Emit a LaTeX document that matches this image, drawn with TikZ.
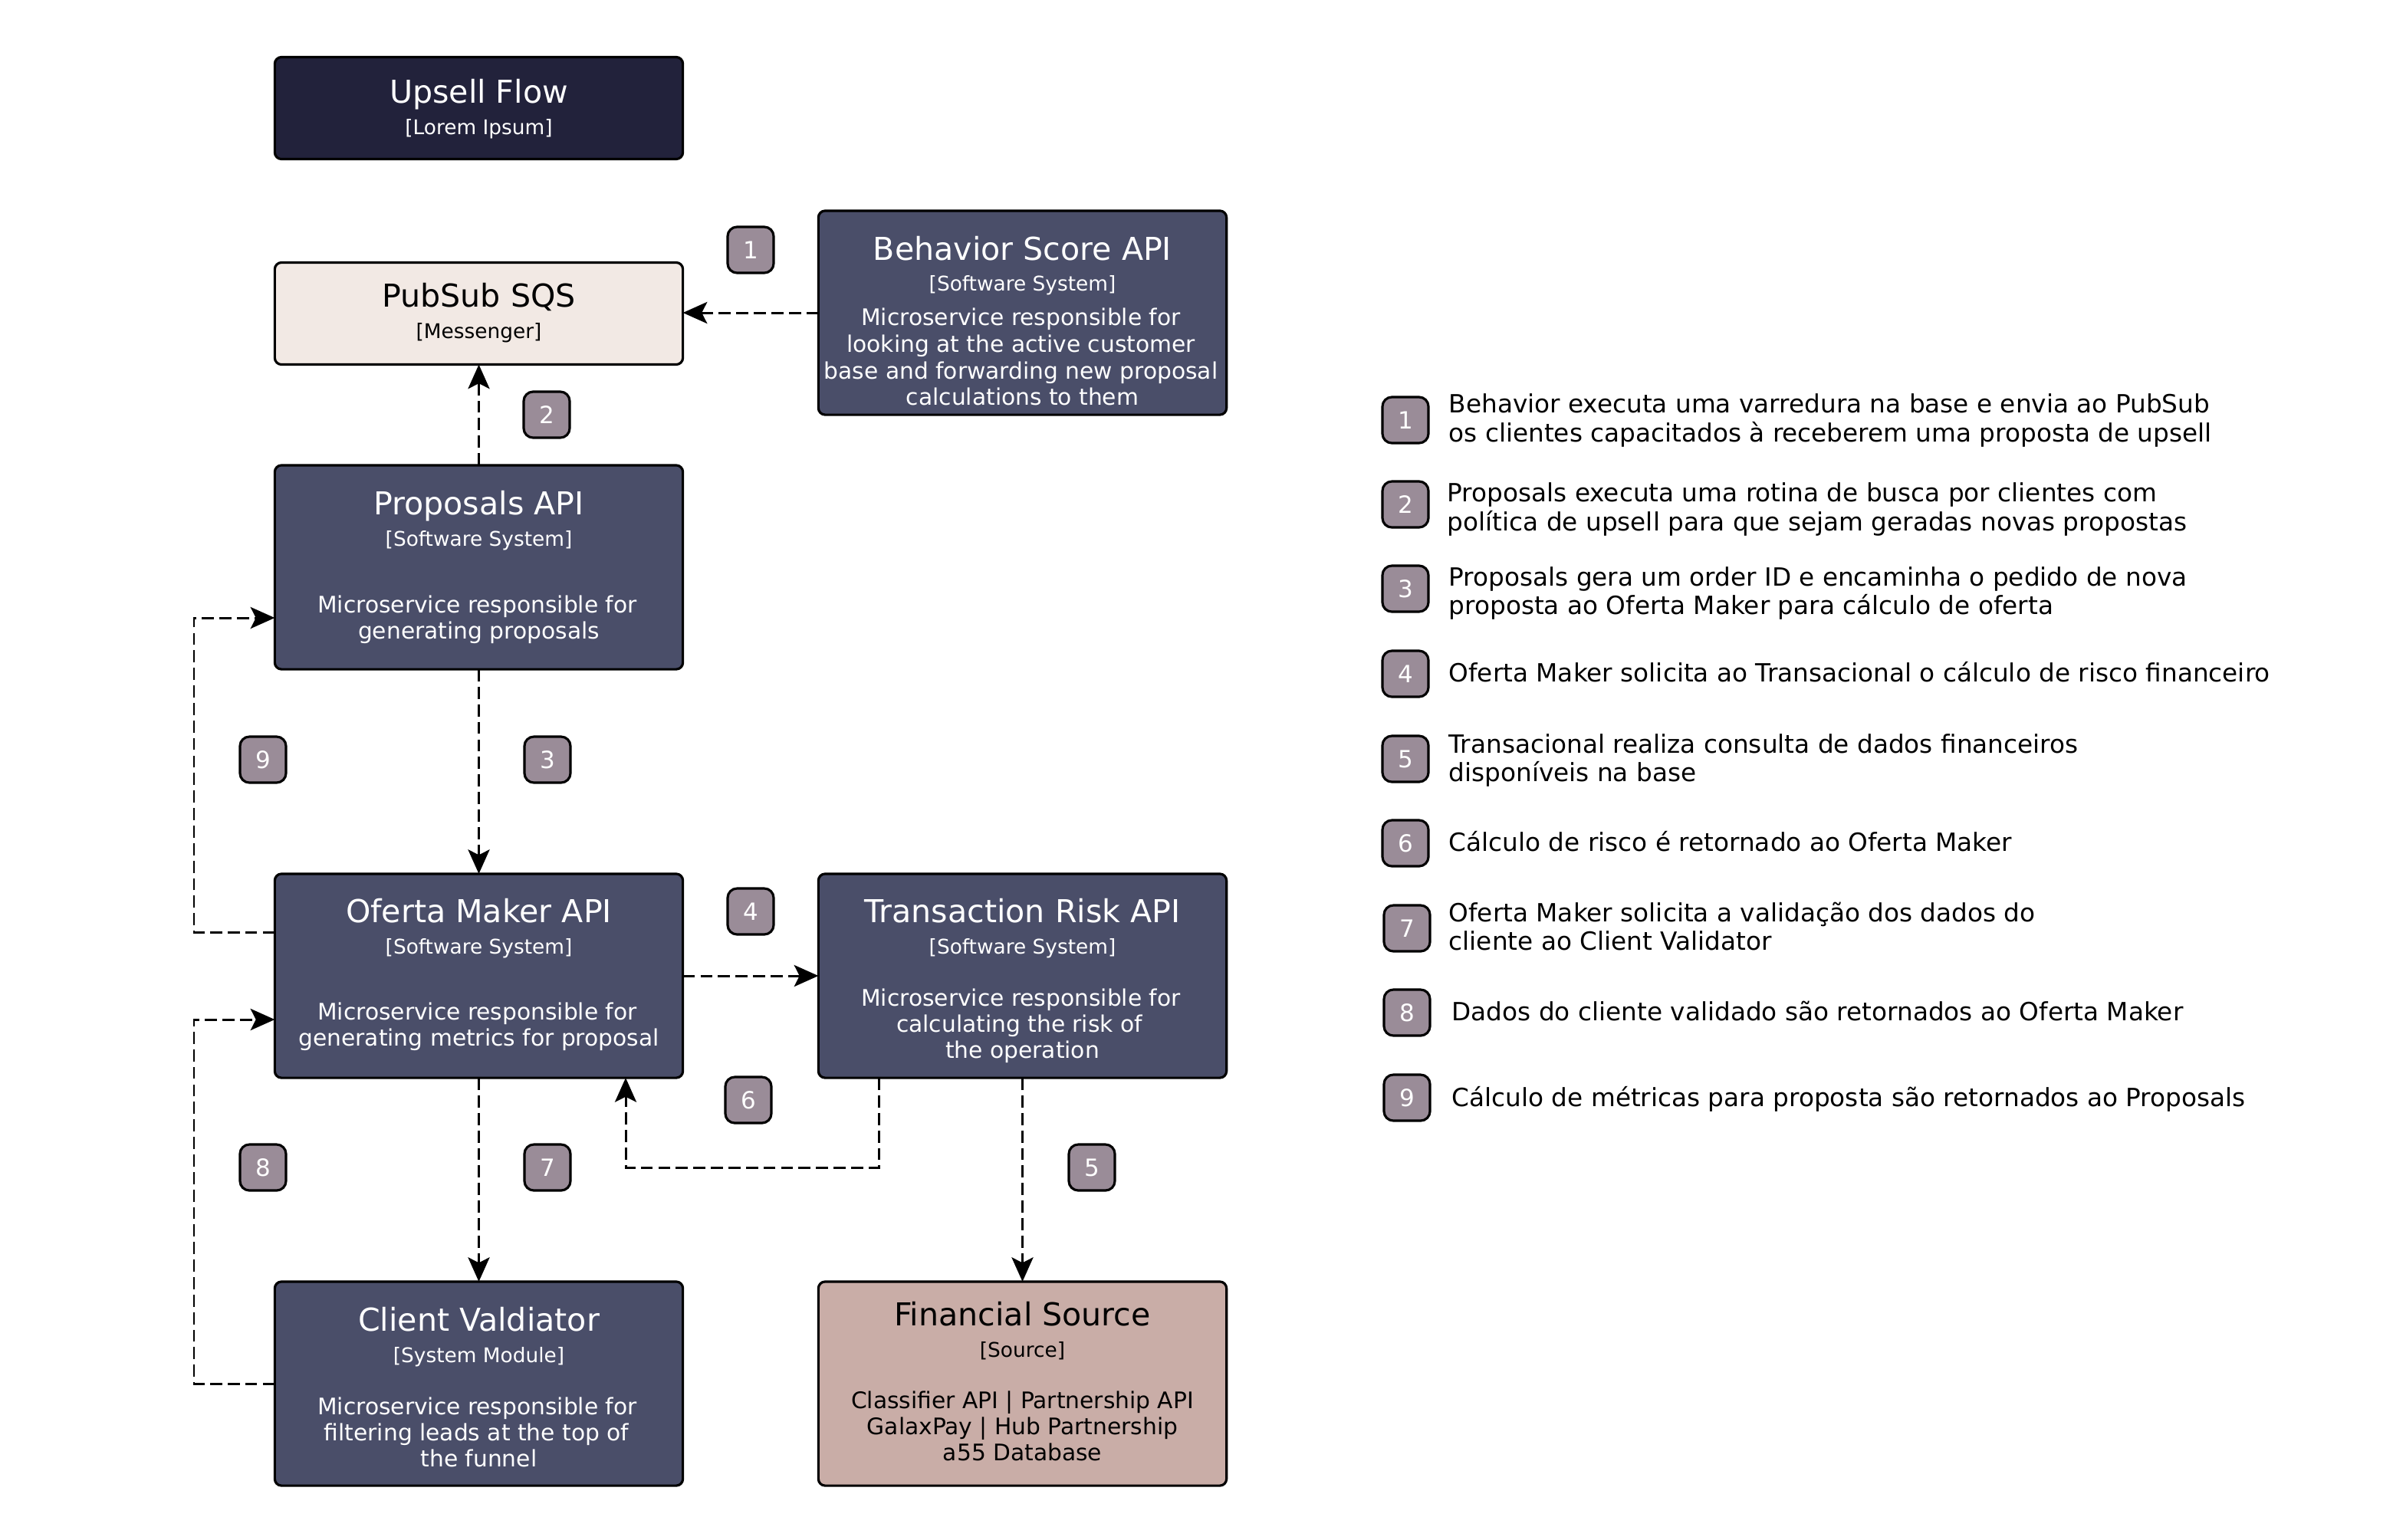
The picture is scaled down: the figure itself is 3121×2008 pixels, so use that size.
\documentclass[tikz,border=0pt]{standalone}
\usepackage{fontspec}
\setmainfont{DejaVu Sans}
\usetikzlibrary{arrows.meta}
\definecolor{cnavy}{HTML}{22223B}
\definecolor{cslate}{HTML}{4A4E69}
\definecolor{cmauve}{HTML}{9A8C98}
\definecolor{crose}{HTML}{C9ADA7}
\definecolor{ccream}{HTML}{F2E9E4}
\begin{document}
\begin{tikzpicture}[x=0.01cm,y=-0.01cm,
  sysbox/.style={draw=black, line width=0.9pt, rounded corners=2.5pt, inner sep=0pt, outer sep=0pt,
    minimum width=5.32cm, minimum height=2.66cm, fill=cslate},
  smallbox/.style={sysbox, minimum height=1.33cm},
  ttl/.style={anchor=base, inner sep=0pt, font=\fontsize{11.7pt}{14pt}\selectfont},
  subttl/.style={anchor=base, inner sep=0pt, font=\fontsize{7.5pt}{9pt}\selectfont},
  desctxt/.style={anchor=base, inner sep=0pt, font=\fontsize{8.45pt}{10pt}\selectfont},
  numbadge/.style={draw=black, line width=0.9pt, fill=cmauve, rounded corners=3.5pt, minimum size=0.6cm,
    inner sep=0pt, outer sep=0pt, text=white, font=\fontsize{8.8pt}{10pt}\selectfont},
  legtxt/.style={anchor=base west, inner sep=0pt, font=\fontsize{9.3pt}{11pt}\selectfont},
  flowarrow/.style={draw=black, line width=0.85pt, dash pattern=on 4.5pt off 2pt,
    -{Stealth[length=9pt,width=8pt,inset=2pt]}}
]
\useasboundingbox[fill=white] (0,0) rectangle (3121,2008);

% ---------- boxes ----------
\node[smallbox, fill=cnavy] (upsell) at (624.5,141) {};
\node[ttl, text=white] (upsell-t) at (624.5,134) {Upsell Flow};
\node[subttl, text=white] (upsell-s) at (624.5,175) {[Lorem Ipsum]};

\node[smallbox, fill=ccream] (pubsub) at (624.5,409) {};
\node[ttl] (pubsub-t) at (624.5,400) {PubSub SQS};
\node[subttl] (pubsub-s) at (624.5,441) {[Messenger]};

\node[sysbox] (behav) at (1333.5,408) {};
\node[ttl, text=white] (behav-t) at (1333.5,339) {Behavior Score API};
\node[subttl, text=white] (behav-s) at (1333.5,379) {[Software System]};
\node[desctxt, text=white] (behav-d1) at (1331.5,424) {Microservice responsible for};
\node[desctxt, text=white] (behav-d2) at (1331.5,459) {looking at the active customer};
\node[desctxt, text=white] (behav-d3) at (1331.5,494) {base and forwarding new proposal};
\node[desctxt, text=white] (behav-d4) at (1333.5,528) {calculations to them};

\node[sysbox] (prop) at (624.5,740) {};
\node[ttl, text=white] (prop-t) at (624.5,671) {Proposals API};
\node[subttl, text=white] (prop-s) at (624.5,712) {[Software System]};
\node[desctxt, text=white] (prop-d1) at (622.5,799) {Microservice responsible for};
\node[desctxt, text=white] (prop-d2) at (624.5,833) {generating proposals};

\node[sysbox] (ofer) at (624.5,1273) {};
\node[ttl, text=white] (ofer-t) at (624.5,1203) {Oferta Maker API};
\node[subttl, text=white] (ofer-s) at (624.5,1244) {[Software System]};
\node[desctxt, text=white] (ofer-d1) at (622.5,1330) {Microservice responsible for};
\node[desctxt, text=white] (ofer-d2) at (624.5,1364) {generating metrics for proposal};

\node[sysbox] (trisk) at (1333.5,1273) {};
\node[ttl, text=white] (trisk-t) at (1333.5,1203) {Transaction Risk API};
\node[subttl, text=white] (trisk-s) at (1333.5,1244) {[Software System]};
\node[desctxt, text=white] (trisk-d1) at (1331.5,1312) {Microservice responsible for};
\node[desctxt, text=white] (trisk-d2) at (1329.5,1346) {calculating the risk of};
\node[desctxt, text=white] (trisk-d3) at (1333.5,1380) {the operation};

\node[sysbox] (client) at (624.5,1805) {};
\node[ttl, text=white] (client-t) at (624.5,1736) {Client Valdiator};
\node[subttl, text=white] (client-s) at (624.5,1777) {[System Module]};
\node[desctxt, text=white] (client-d1) at (622.5,1845) {Microservice responsible for};
\node[desctxt, text=white] (client-d2) at (621.5,1879) {filtering leads at the top of};
\node[desctxt, text=white] (client-d3) at (624.5,1913) {the funnel};

\node[sysbox, fill=crose] (fin) at (1333.5,1805) {};
\node[ttl] (fin-t) at (1333.5,1729) {Financial Source};
\node[subttl] (fin-s) at (1333.5,1770) {[Source]};
\node[desctxt] (fin-d1) at (1333.5,1837) {Classifier API | Partnership API};
\node[desctxt] (fin-d2) at (1333.5,1871) {GalaxPay | Hub Partnership};
\node[desctxt] (fin-d3) at (1333.5,1905) {a55 Database};

% ---------- connectors ----------
\coordinate (k6a) at (1146,1523);
\coordinate (k6b) at (816,1523);
\coordinate (k8) at (253,1330);
\coordinate (k9a) at (253,1216);
\coordinate (k9b) at (253,806);

\draw[flowarrow] (behav.west) -- (behav.west -| pubsub.east);
\draw[flowarrow] (prop.north) -- (pubsub.south);
\draw[flowarrow] (prop.south) -- (ofer.north);
\draw[flowarrow] (ofer.east) -- (trisk.west);
\draw[flowarrow] (trisk.south) -- (fin.north);
\draw[flowarrow] (k6a |- trisk.south) -- (k6a) -- (k6b) -- (k6b |- ofer.south);
\draw[flowarrow] (ofer.south) -- (client.north);
\draw[flowarrow] (client.west) -| (k8) -- (k8 -| ofer.west);
\draw[flowarrow] (k9a -| ofer.west) -- (k9a) -- (k9b) -- (k9b -| prop.west);

% ---------- step badges ----------
\node[numbadge] (b1) at (979,326) {1};
\node[numbadge] (b2) at (713,541) {2};
\node[numbadge] (b3) at (714,991) {3};
\node[numbadge] (b9) at (343,991) {9};
\node[numbadge] (b4) at (979,1189) {4};
\node[numbadge] (b6) at (976,1435) {6};
\node[numbadge] (b8) at (343,1523) {8};
\node[numbadge] (b7) at (714,1523) {7};
\node[numbadge] (b5) at (1424,1523) {5};

% ---------- legend ----------
\node[numbadge] (lb1) at (1833,548) {1};
\node[legtxt] (l1a) at (1889,538) {Behavior executa uma varredura na base e envia ao PubSub};
\node[legtxt] (l1b) at (1889,576) {os clientes capacitados à receberem uma proposta de upsell};

\node[numbadge] (lb2) at (1833,658) {2};
\node[legtxt] (l2a) at (1887,654) {Proposals executa uma rotina de busca por clientes com};
\node[legtxt] (l2b) at (1887,692) {política de upsell para que sejam geradas novas propostas};

\node[numbadge] (lb3) at (1833,768) {3};
\node[legtxt] (l3a) at (1889,764) {Proposals gera um order ID e encaminha o pedido de nova};
\node[legtxt] (l3b) at (1889,801) {proposta ao Oferta Maker para cálculo de oferta};

\node[numbadge] (lb4) at (1833,879) {4};
\node[legtxt] (l4a) at (1889,889) {Oferta Maker solicita ao Transacional o cálculo de risco financeiro};

\node[numbadge] (lb5) at (1833,990) {5};
\node[legtxt] (l5a) at (1889,982) {Transacional realiza consulta de dados financeiros};
\node[legtxt] (l5b) at (1889,1019) {disponíveis na base};

\node[numbadge] (lb6) at (1833,1100) {6};
\node[legtxt] (l6a) at (1889,1110) {Cálculo de risco é retornado ao Oferta Maker};

\node[numbadge] (lb7) at (1835,1211) {7};
\node[legtxt] (l7a) at (1889,1202) {Oferta Maker solicita a validação dos dados do};
\node[legtxt] (l7b) at (1889,1239) {cliente ao Client Validator};

\node[numbadge] (lb8) at (1835,1321) {8};
\node[legtxt] (l8a) at (1893,1331) {Dados do cliente validado são retornados ao Oferta Maker};

\node[numbadge] (lb9) at (1835,1432) {9};
\node[legtxt] (l9a) at (1893,1443) {Cálculo de métricas para proposta são retornados ao Proposals};
\end{tikzpicture}
\end{document}
